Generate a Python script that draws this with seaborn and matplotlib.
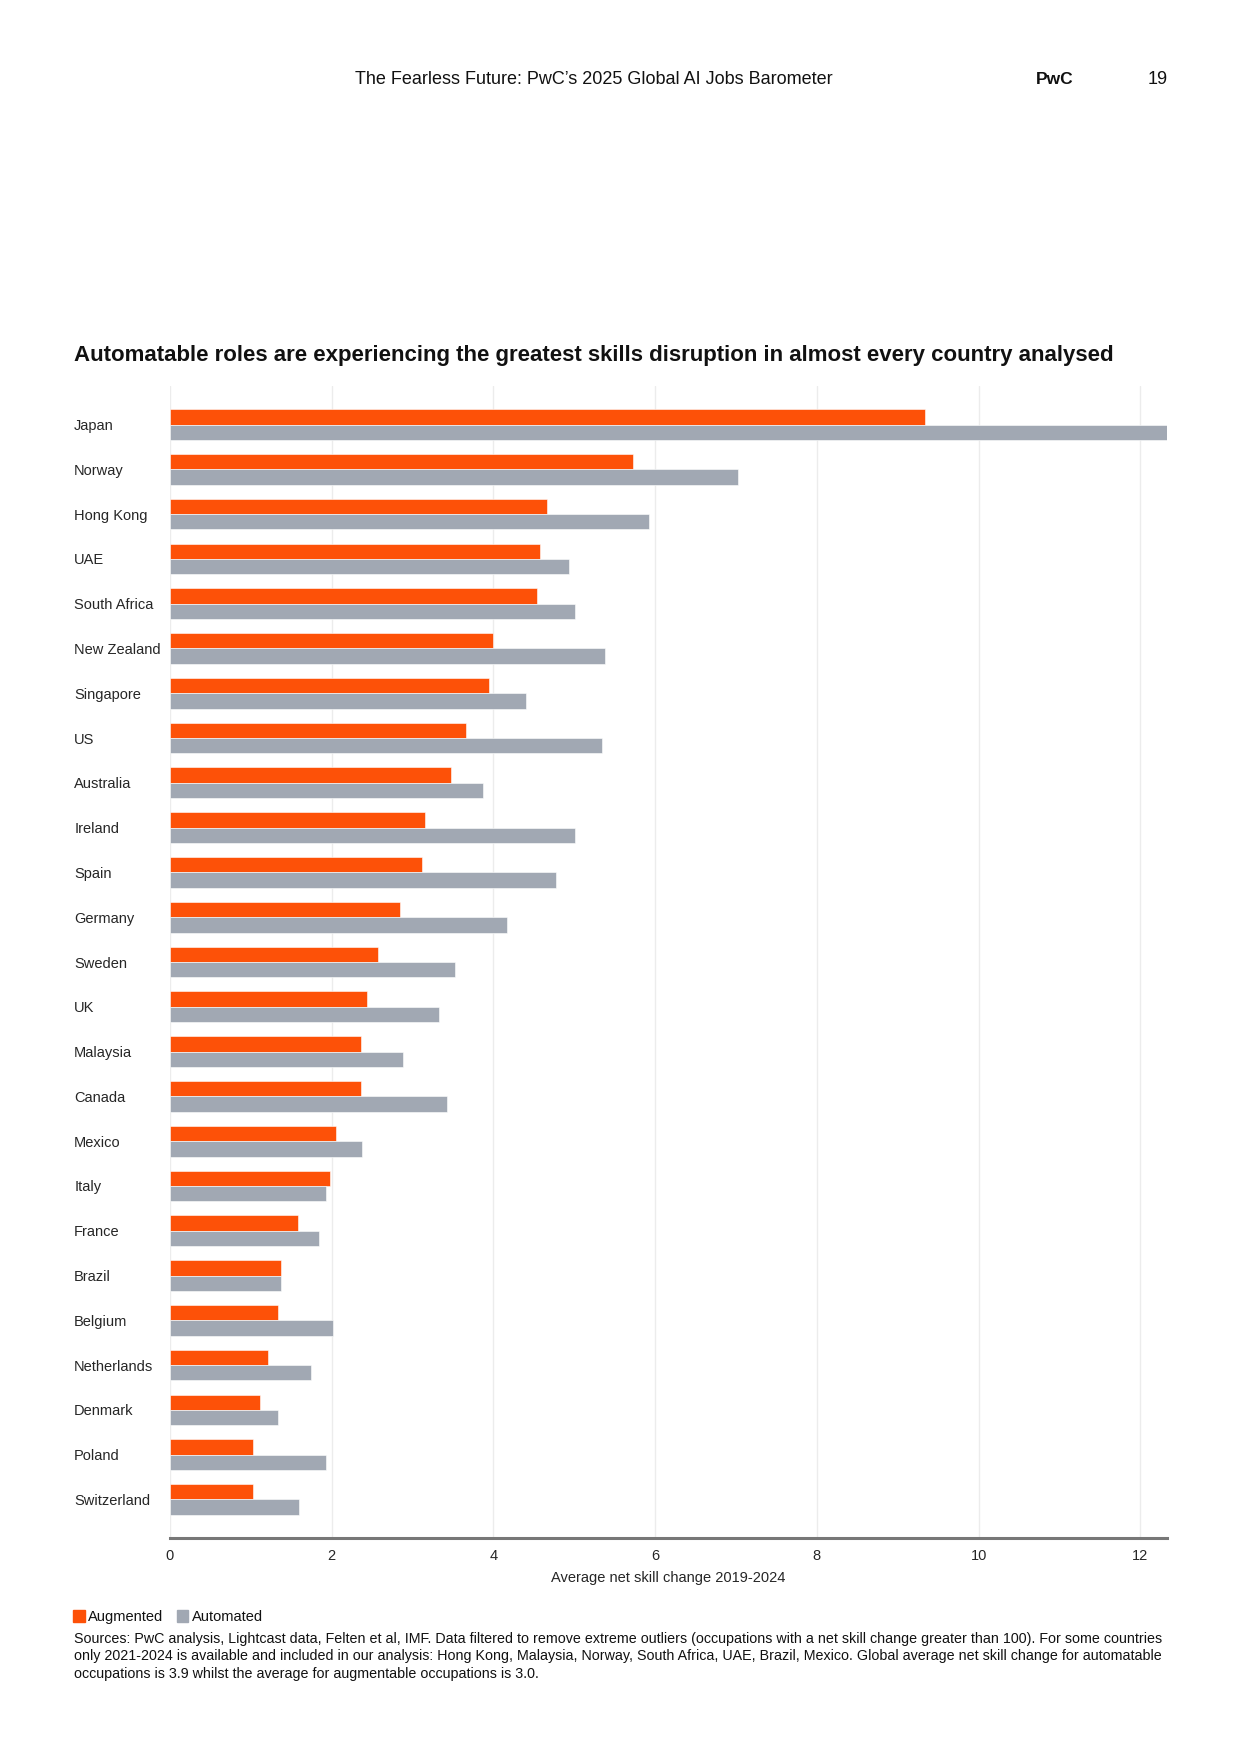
"""
Skills disruption by country: augmented vs automated occupations.
Horizontal grouped bar chart, PwC barometer page style.
"""

import matplotlib.pyplot as plt
import seaborn as sns
import pandas as pd

# ── Data ─────────────────────────────────────────────────────────────
countries = [
    "Japan", "Norway", "Hong Kong", "UAE", "South Africa", "New Zealand",
    "Singapore", "US", "Australia", "Ireland", "Spain", "Germany", "Sweden",
    "UK", "Malaysia", "Canada", "Mexico", "Italy", "France", "Brazil",
    "Belgium", "Netherlands", "Denmark", "Poland", "Switzerland",
]
augmented = [
    9.34, 5.73, 4.66, 4.58, 4.54, 3.99, 3.95, 3.66, 3.47, 3.15, 3.12, 2.84,
    2.57, 2.44, 2.36, 2.36, 2.05, 1.98, 1.58, 1.37, 1.33, 1.21, 1.11, 1.03,
    1.03,
]
automated = [
    12.33, 7.02, 5.93, 4.93, 5.01, 5.38, 4.40, 5.34, 3.87, 5.01, 4.77, 4.17,
    3.52, 3.33, 2.88, 3.43, 2.38, 1.93, 1.84, 1.37, 2.01, 1.74, 1.33, 1.93,
    1.60,
]
series_names = ["Augmented", "Automated"]
x_ticks = [0, 2, 4, 6, 8, 10, 12]

df = pd.DataFrame({
    "country": countries * 2,
    "value": augmented + automated,
    "series": [series_names[0]] * len(countries) + [series_names[1]] * len(countries),
})

# ── Style ────────────────────────────────────────────────────────────
ORANGE = "#FD5108"
GREY = "#A1A8B3"
TEXT = "#111111"

sns.set_style("white")
plt.rcParams["font.family"] = ["Liberation Sans", "DejaVu Sans"]
plt.rcParams["text.color"] = TEXT

W, H = 1241, 1754
fig = plt.figure(figsize=(W / 100, H / 100), dpi=100)
left, right, top, bottom = 170, 1167, 386, 1538
ax = fig.add_axes([left / W, 1 - bottom / H, (right - left) / W, (bottom - top) / H])

sns.barplot(
    data=df, x="value", y="country", hue="series", orient="h",
    palette=[ORANGE, GREY], width=0.687, saturation=1,
    edgecolor="white", linewidth=0.4, ax=ax, legend=False,
)

ax.set_xlim(0, max(automated))
ax.set_ylim(len(countries) - 1 + 0.86, -0.86)
ax.set_xticks(x_ticks)
ax.set_xticklabels([str(t) for t in x_ticks], fontsize=10.5)
ax.xaxis.grid(True, color="#ececec", linewidth=1)
ax.yaxis.grid(False)
ax.set_axisbelow(True)
for s in ["top", "right", "left"]:
    ax.spines[s].set_visible(False)
ax.spines["bottom"].set_color("#777777")
ax.spines["bottom"].set_linewidth(2.2)
ax.tick_params(axis="x", length=0, pad=8)
ax.tick_params(axis="y", length=0, pad=69)
for lbl in ax.get_yticklabels():
    lbl.set_horizontalalignment("left")
    lbl.set_fontsize(10.5)
ax.set_ylabel("")
ax.set_xlabel("Average net skill change 2019-2024", fontsize=10.5, labelpad=6)

# ── Page texts ───────────────────────────────────────────────────────
fig.text(355 / W, 1 - 80 / H, "The Fearless Future: PwC’s 2025 Global AI Jobs Barometer",
         fontsize=13, va="center", ha="left")
fig.text(1036 / W, 1 - 80 / H, "PwC", fontsize=12.5, fontweight="bold", va="center")
fig.text(1168 / W, 1 - 80 / H, "19", fontsize=13, va="center", ha="right")

fig.text(74 / W, 1 - 356 / H,
         "Automatable roles are experiencing the greatest skills disruption in almost every country analysed",
         fontsize=16, fontweight="bold", va="center", ha="left")

# legend
handles = [plt.Rectangle((0, 0), 1, 1, color=c) for c in (ORANGE, GREY)]
fig.legend(handles, series_names, loc="center left",
           bbox_to_anchor=(73 / W, 1 - 1617 / H), ncol=2, frameon=False,
           fontsize=10.5, handlelength=0.8, handleheight=0.9,
           handletextpad=0.25, columnspacing=0.9, borderpad=0, borderaxespad=0)

source = (
    "Sources: PwC analysis, Lightcast data, Felten et al, IMF. Data filtered to remove extreme outliers "
    "(occupations with a net skill change greater than 100). For some countries\n"
    "only 2021-2024 is available and included in our analysis: Hong Kong, Malaysia, Norway, South Africa, "
    "UAE, Brazil, Mexico. Global average net skill change for automatable\n"
    "occupations is 3.9 whilst the average for augmentable occupations is 3.0."
)
fig.text(74 / W, 1 - 1632 / H, source, fontsize=10.3, va="top", ha="left", linespacing=1.3)

fig.savefig("out.png", dpi=100)
